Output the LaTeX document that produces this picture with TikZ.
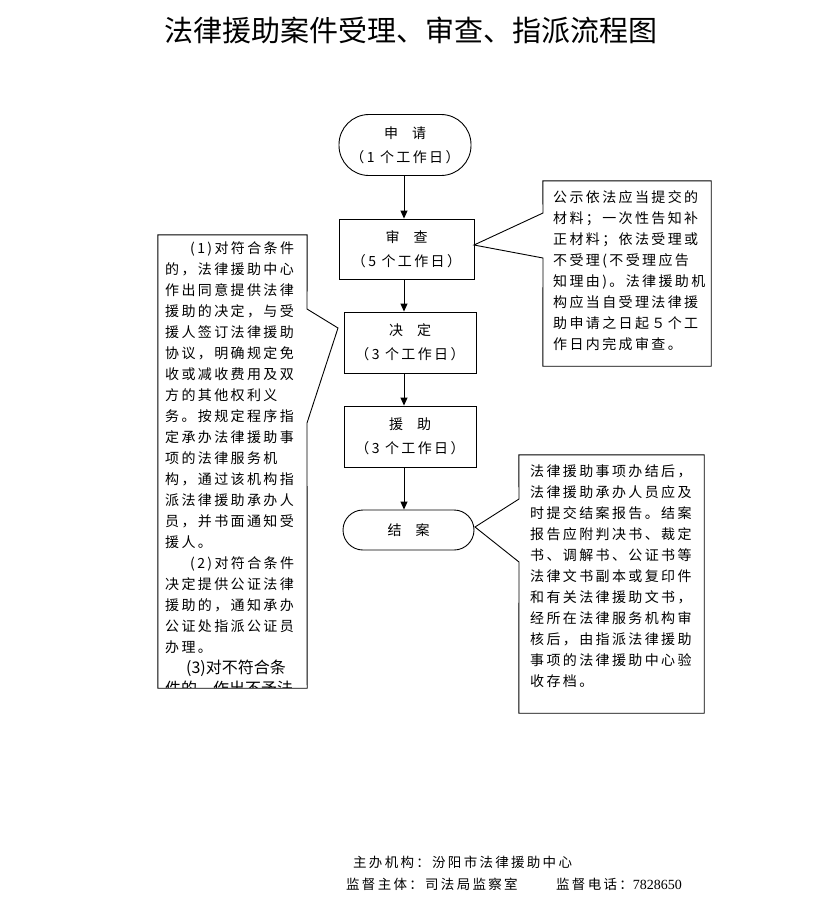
\documentclass[tikz,border=0pt]{standalone}
\usepackage{fontspec}
\usepackage{tikz}
\usetikzlibrary{arrows.meta, positioning}
\newfontfamily\cjk[LetterSpace=17]{Noto Sans CJK SC}
\newfontfamily\cjkplain{Noto Sans CJK SC}
\newfontfamily\numfont{Liberation Serif}
\newcommand\bodyfont{\cjk\fontsize{14}{21}\selectfont}
\newcommand\footfont{\cjk\fontsize{13.5}{21}\selectfont}

\begin{document}
\begin{tikzpicture}[x=1pt, y=-1pt,
	stepbox/.style={draw, line width=0.9pt, minimum width=132pt, minimum height=61pt,
		align=center, inner sep=0pt, font=\bodyfont},
	termbox/.style={stepbox, rounded corners=30pt},
	flowarrow/.style={-{Triangle[length=8pt, width=7pt]}, line width=0.9pt},
	notebox/.style={inner sep=0pt},
	notetext/.style={anchor=north west, inner sep=0pt, align=left, font=\bodyfont},
	callout/.style={line width=0.9pt, line join=miter}]
	\path[fill=white, use as bounding box] (0,0) rectangle (823,906);

	\node[font=\cjkplain\fontsize{29}{32}\selectfont] (title) at (411,30) {法律援助案件受理、审查、指派流程图};

	% main flow
	\node[termbox] (shenqing) at (405,145) {申\hspace{1em}请\\[3pt]（1 个工作日）};
	\node[stepbox, minimum width=135pt, minimum height=60pt] (shencha) at (406.5,249) {审\hspace{1em}查\\[3pt]（5 个工作日）};
	\node[stepbox] (jueding) at (410,342.5) {决\hspace{1em}定\\[3pt]（3 个工作日）};
	\node[stepbox] (yuanzhu) at (410,436.5) {援\hspace{1em}助\\[3pt]（3 个工作日）};
	\node[termbox, minimum width=131pt, minimum height=40pt, rounded corners=20pt] (jiean) at (408.5,530) {结\hspace{1em}案};

	\coordinate (axis) at (404,0);
	\draw[flowarrow] (shenqing.south -| axis) -- (shencha.north -| axis);
	\draw[flowarrow] (shencha.south -| axis) -- (jueding.north -| axis);
	\draw[flowarrow] (jueding.south -| axis) -- (yuanzhu.north -| axis);
	\draw[flowarrow] (yuanzhu.south -| axis) -- (jiean.north -| axis);

	% review note
	\node[notebox, minimum width=168pt, minimum height=185pt] (checknote) at (627,273.5) {};
	\coordinate (checka) at (543,213);
	\coordinate (checkb) at (543,258);
	\coordinate (checktip) at (474,245);
	\draw[callout] (checknote.north west) -- (checknote.north east) -- (checknote.south east)
		-- (checknote.south west) -- (checkb) -- (checktip) -- (checka) -- cycle;
	\node[notetext, text width=165pt] (checktext) at (553,190) {%
		公示依法应当提交的\\
		材料；一次性告知补\\
		正材料；依法受理或\\
		不受理(不受理应告\\
		知理由)。法律援助机\\
		构应当自受理法律援\\
		助申请之日起５个工\\
		作日内完成审查。};

	% assign note
	\node[notebox, minimum width=149pt, minimum height=453pt] (assignnote) at (232.5,461.5) {};
	\coordinate (assigna) at (307,309);
	\coordinate (assignb) at (307,423);
	\coordinate (assigntip) at (338,328);
	\draw[callout] (assignnote.north west) -- (assignnote.north east) -- (assigna) -- (assigntip)
		-- (assignb) -- (assignnote.south east) -- (assignnote.south west) -- cycle;
	\begin{scope}
		\clip (assignnote.north west) rectangle ([yshift=1pt]assignnote.south east);
		\node[notetext, text width=145pt] (assigntext) at (165,241) {%
			\hspace*{25pt}(1)对符合条件\\
			的，法律援助中心\\
			作出同意提供法律\\
			援助的决定，与受\\
			援人签订法律援助\\
			协议，明确规定免\\
			收或减收费用及双\\
			方的其他权利义\\
			务。按规定程序指\\
			定承办法律援助事\\
			项的法律服务机\\
			构，通过该机构指\\
			派法律援助承办人\\
			员，并书面通知受\\
			援人。\\
			\hspace*{25pt}(2)对符合条件\\
			决定提供公证法律\\
			援助的，通知承办\\
			公证处指派公证员\\
			办理。\\
			{\cjkplain\fontsize{16}{21}\selectfont\hspace*{21pt}(3)对不符合条}\\
			{\cjkplain\fontsize{16}{21}\selectfont 件的，作出不予法}};
	\end{scope}

	% closing note
	\node[notebox, minimum width=185pt, minimum height=258pt] (closenote) at (611.5,584) {};
	\coordinate (closea) at (519,499);
	\coordinate (closeb) at (519,562);
	\coordinate (closetip) at (475,527);
	\draw[callout] (closenote.north west) -- (closenote.north east) -- (closenote.south east)
		-- (closenote.south west) -- (closeb) -- (closetip) -- (closea) -- cycle;
	\node[notetext, text width=180pt] (closetext) at (530,465) {%
		法律援助事项办结后，\\
		法律援助承办人员应及\\
		时提交结案报告。结案\\
		报告应附判决书、裁定\\
		书、调解书、公证书等\\
		法律文书副本或复印件\\
		和有关法律援助文书，\\
		经所在法律服务机构审\\
		核后，由指派法律援助\\
		事项的法律援助中心验\\
		收存档。};

	% footer
	\node[anchor=west, inner sep=0pt, font=\footfont] (host) at (353,862) {主办机构：汾阳市法律援助中心};
	\node[anchor=west, inner sep=0pt, font=\footfont] (supervisor) at (346,884) {监督主体：司法局监察室};
	\node[anchor=west, inner sep=0pt, font=\footfont] (phone) at (556,884) {监督电话：{\numfont\fontsize{14}{21}\selectfont 7828650}};
\end{tikzpicture}
\end{document}
